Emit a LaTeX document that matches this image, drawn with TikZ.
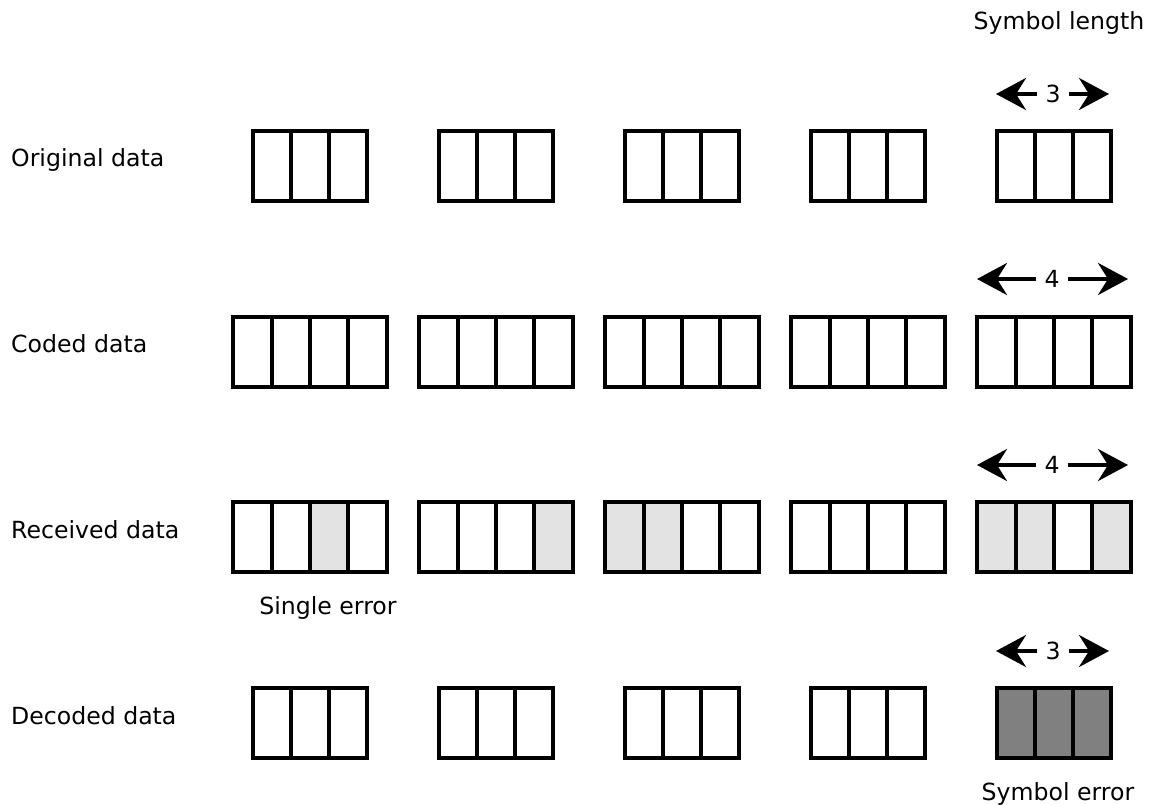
\documentclass[tikz,border=0pt]{standalone}
\usepackage{fontspec}
\setmainfont{DejaVu Sans}
\usetikzlibrary{arrows.meta, positioning}
\definecolor{errlight}{HTML}{E3E3E3}
\definecolor{errdark}{HTML}{808080}

\begin{document}
\begin{tikzpicture}[
    x=1pt, y=-1pt,
    every node/.style={font=\fontsize{23.6}{28}\selectfont},
    cell/.style={
        draw,
        line width=4pt,
        minimum width=38.3pt,
        minimum height=70pt,
        inner sep=0pt,
        outer sep=0pt
    },
    rowlabel/.style={anchor=base west, inner sep=0pt},
    note/.style={anchor=base, inner sep=0pt},
    num/.style={inner sep=8pt},
    arrow/.style={-{Stealth[length=30pt, width=32pt, inset=10pt]}, line width=4pt},
    % received cells hit by errors
    r13/.style={fill=errlight}, r24/.style={fill=errlight},
    r31/.style={fill=errlight}, r32/.style={fill=errlight},
    r51/.style={fill=errlight}, r52/.style={fill=errlight},
    r54/.style={fill=errlight},
    % decoded symbol in error
    d51/.style={fill=errdark}, d52/.style={fill=errdark},
    d53/.style={fill=errdark}
]
\useasboundingbox (0,0) rectangle (1159,805);

% --- Row labels ---
\node[rowlabel] (orig)  at (11,167) {Original data};
\node[rowlabel] (coded) at (11,352) {Coded data};
\node[rowlabel] (recv)  at (11,538) {Received data};
\node[rowlabel] (dec)   at (11,724) {Decoded data};

% --- Symbols ---
\foreach \g in {1,...,5} {
    \pgfmathsetmacro{\cx}{310+186*(\g-1)}
    \foreach \c in {1,2,3}
        \node[cell] (o\g\c) at ({\cx+38.3*(\c-2)},166) {};
    \foreach \c in {1,...,4}
        \node[cell] (c\g\c) at ({\cx+38.3*(\c-2.5)},352) {};
    \foreach \c in {1,...,4}
        \node[cell, r\g\c/.try] (r\g\c) at ({\cx+38.3*(\c-2.5)},537) {};
    \foreach \c in {1,2,3}
        \node[cell, d\g\c/.try] (d\g\c) at ({\cx+38.3*(\c-2)},723) {};
}

% --- Symbol lengths ---
\node[note] (symlen) at (1059,30) {Symbol length};
\node[num] (lenorig) at (1053,94) {3};
\node[num] (lencoded) at (1052,279) {4};
\node[num] (lenrecv) at (1052,465) {4};
\node[num] (lendec) at (1053,651) {3};
\coordinate (lenorigL) at (996,94);
\coordinate (lenorigR) at (1109,94);
\coordinate (lencodedL) at (977,279);
\coordinate (lencodedR) at (1128,279);
\coordinate (lenrecvL) at (977,465);
\coordinate (lenrecvR) at (1128,465);
\coordinate (lendecL) at (996,651);
\coordinate (lendecR) at (1109,651);

\foreach \n in {lenorig, lencoded, lenrecv, lendec} {
    \draw[arrow] (\n) -- (\n L);
    \draw[arrow] (\n) -- (\n R);
}

% --- Notes ---
\node[note] (single) at (328,614) {Single error};
\node[note] (symerr) at (1058,800) {Symbol error};

\end{tikzpicture}
\end{document}
